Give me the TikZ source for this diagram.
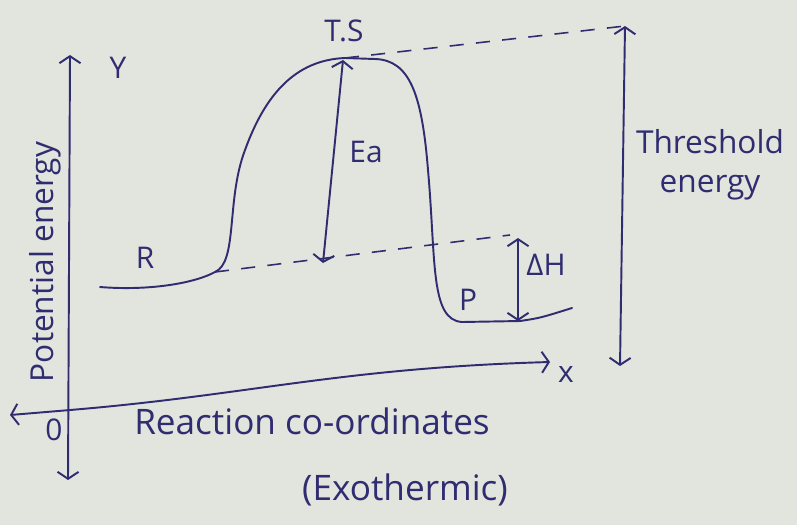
\documentclass[tikz,border=0pt]{standalone}
\usepackage{fontspec}
\setmainfont{Open Sans}
\usetikzlibrary{arrows.meta}
\definecolor{inkblue}{RGB}{48,44,112}
\definecolor{paper}{RGB}{226,228,222}

\begin{document}
\begin{tikzpicture}[x=0.02cm, y=-0.02cm,
    ink/.style={draw=inkblue, line width=1.1pt, line cap=round},
    barb/.style={ink, {Straight Barb[length=4pt,width=12pt]}-{Straight Barb[length=4pt,width=12pt]}},
    guide/.style={draw=inkblue, line width=0.9pt, dash pattern=on 8pt off 7pt},
    label_font/.style={text=inkblue, inner sep=0pt, font=\fontsize{17}{20}\selectfont},
    big_font/.style={label_font, font=\fontsize{20}{23}\selectfont}
  ]
    \fill[paper] (0,0) rectangle (797,525);
    \useasboundingbox (0,0) rectangle (797,525);

    % axes
    \coordinate (ytop)   at (70,55);
    \coordinate (ybot)   at (68,480);
    \coordinate (xleft)  at (10,415);
    \coordinate (origin) at (70,410);
    \coordinate (xright) at (550,362);
    \draw[barb] (ytop) -- (ybot);
    \draw[ink, {Straight Barb[length=4pt,width=12pt]}-] (xleft) -- (origin);
    \draw[ink, -{Straight Barb[length=4pt,width=12pt]}] (origin) .. controls (250,395) and (340,368) .. (xright);

    % energy profile
    \coordinate (rstart) at (100,287);
    \coordinate (rend)   at (215,272);
    \coordinate (peak)   at (345,58);
    \coordinate (pbot)   at (520,321);
    \coordinate (pend)   at (572,308);
    \draw[ink] (rstart) .. controls (150,291) and (195,283) .. (rend)
      .. controls (238,262) and (226,200) .. (245,150)
      .. controls (265,95) and (295,60) .. (peak)
      -- (375,59) .. controls (410,60) and (422,95) .. (428,170)
      .. controls (436,260) and (430,320) .. (462,322)
      -- (pbot) .. controls (540,318) .. (pend);

    % guide lines
    \coordinate (rlevel) at (510,235);
    \coordinate (thtop)  at (625,26);
    \coordinate (thbot)  at (620,366);
    \draw[guide] (rend) -- (rlevel);
    \draw[guide] (peak) -- (thtop);

    % energy arrows
    \coordinate (eatop) at (343,60);
    \coordinate (eabot) at (323,263);
    \coordinate (dhtop) at (518,238);
    \draw[barb] (eatop) -- (eabot);
    \draw[barb] (dhtop) -- (pbot -| dhtop);
    \draw[barb] (thtop) -- (thbot);

    % labels
    \node[label_font] (ylab)  at (118,68)  {Y};
    \node[label_font] (ts)    at (344,31)  {T.S};
    \node[label_font] (ea)    at (366,152) {Ea};
    \node[label_font] (rlab)  at (145,258) {R};
    \node[label_font] (plab)  at (468,300) {P};
    \node[label_font] (dh)    at (546,265) {ΔH};
    \node[label_font, font=\fontsize{18}{22}\selectfont, align=center] (th) at (710,165) {Threshold\\ energy};
    \node[label_font, font=\fontsize{18}{21}\selectfont, rotate=90] (pe) at (45,262) {Potential energy};
    \node[label_font] (zero)  at (54,430)  {0};
    \node[big_font]   (rc)    at (312,421) {Reaction co-ordinates};
    \node[label_font] (xlab)  at (566,374) {x};
    \node[big_font]   (exo)   at (405,490) {(Exothermic)};
  \end{tikzpicture}
\end{document}
